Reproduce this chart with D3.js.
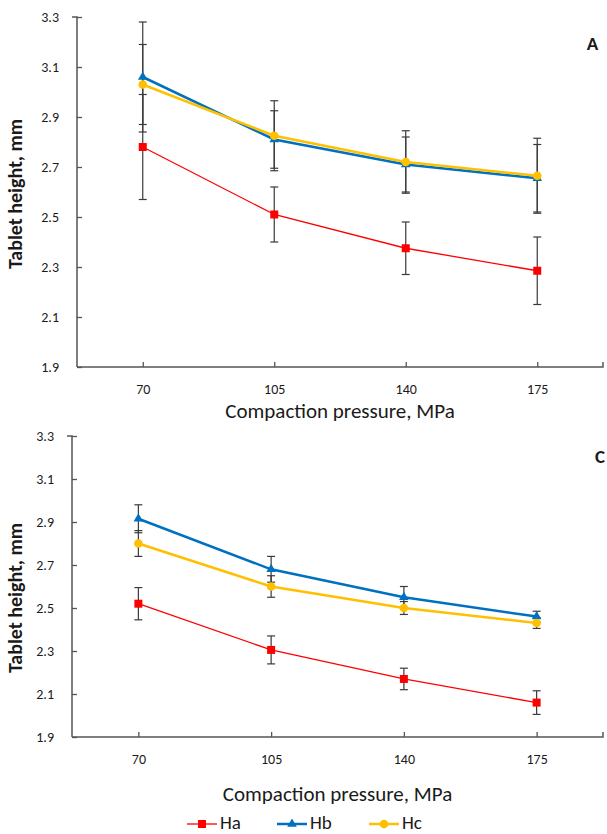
<!DOCTYPE html>
<html><head><meta charset="utf-8">
<script src="https://cdn.jsdelivr.net/npm/d3@7"></script>
<style>body{margin:0;background:#fff}svg{display:block}text{font-family:Carlito,Lato,"Liberation Sans",sans-serif;fill:#1a1a1a}</style>
</head><body>
<svg id="c" width="607" height="834"></svg>
<script>
const categories = ["70","105","140","175"];
const yTicks = [1.9,2.1,2.3,2.5,2.7,2.9,3.1,3.3];
const seriesNames = ["Ha","Hb","Hc"];
// Panel A
const A_Ha = [2.78,2.51,2.375,2.285];
const A_Ha_err = [0.21,0.11,0.105,0.135];
const A_Hb = [3.06,2.81,2.71,2.655];
const A_Hb_err = [0.22,0.115,0.11,0.135];
const A_Hc = [3.03,2.825,2.72,2.665];
const A_Hc_err = [0.16,0.14,0.125,0.15];
// Panel C
const C_Ha = [2.52,2.305,2.17,2.06];
const C_Ha_err = [0.075,0.065,0.05,0.055];
const C_Hb = [2.915,2.68,2.55,2.46];
const C_Hb_err = [0.065,0.06,0.05,0.025];
const C_Hc = [2.80,2.60,2.50,2.43];
const C_Hc_err = [0.06,0.05,0.03,0.025];

const colors = {Ha:"#FF0000", Hb:"#0070C0", Hc:"#FFC000"};
const widths = {Ha:1.3, Hb:2.5, Hc:2.5};
const svg = d3.select("#c");
const axisCol = "#555";

function marker(g, name, x, y){
  if(name==="Ha") g.append("rect").attr("x",x-4).attr("y",y-4).attr("width",8).attr("height",8).attr("fill",colors.Ha);
  else if(name==="Hb") g.append("path").attr("d",d3.symbol(d3.symbolTriangle,40)()).attr("transform",`translate(${x},${y})`).attr("fill",colors.Hb);
  else g.append("circle").attr("cx",x).attr("cy",y).attr("r",4.3).attr("fill",colors.Hc);
}

function panel(cfg){
  const x = d3.scalePoint().domain(categories).range([cfg.x0,cfg.x1]).padding(0.5);
  const y = d3.scaleLinear().domain([1.9,3.3]).range([cfg.yb,cfg.yt]);
  const g = svg.append("g");
  // y axis
  const ya = g.append("g").attr("transform",`translate(${cfg.x0},0)`).call(d3.axisLeft(y).tickValues(yTicks).tickSize(-5).tickPadding(12).tickFormat(d3.format(".1f")));
  ya.select(".domain").attr("stroke",axisCol).attr("stroke-width",1.5).attr("d",`M-5,${cfg.yt}H0V${cfg.yb}`);
  ya.selectAll(".tick line").attr("stroke",axisCol).attr("stroke-width",1.3);
  ya.selectAll(".tick text").attr("font-size",14).attr("fill","#1a1a1a").attr("x",-18);
  // x axis
  const xa = g.append("g").attr("transform",`translate(0,${cfg.yb})`).call(d3.axisBottom(x).tickSize(-5).tickPadding(16));
  xa.select(".domain").attr("stroke",axisCol).attr("stroke-width",1.5).attr("d",`M${cfg.x0},0H${cfg.x1}V-5`);
  xa.selectAll(".tick line").attr("stroke",axisCol).attr("stroke-width",1.3);
  xa.selectAll(".tick text").attr("font-size",14).attr("fill","#1a1a1a").attr("dy","0.71em").attr("y",17);
  // titles
  g.append("text").attr("x",(cfg.x0+cfg.x1)/2).attr("y",cfg.xtY).attr("text-anchor","middle").attr("font-size",21).text("Compaction pressure, MPa");
  g.append("text").attr("transform",`translate(22,${cfg.ytC}) rotate(-90)`).attr("text-anchor","middle").attr("font-size",20).attr("font-weight","bold").text("Tablet height, mm");
  g.append("text").attr("x",cfg.lx).attr("y",cfg.ly).attr("text-anchor","middle").attr("font-size",19).attr("font-weight","bold").text(cfg.label);
  const data = {Ha:[cfg.Ha,cfg.HaE], Hb:[cfg.Hb,cfg.HbE], Hc:[cfg.Hc,cfg.HcE]};
  // error bars
  seriesNames.forEach(n=>{
    const [v,e] = data[n];
    categories.forEach((c,i)=>{
      const cx = x(c);
      g.append("line").attr("x1",cx).attr("x2",cx).attr("y1",y(v[i]-e[i])).attr("y2",y(v[i]+e[i])).attr("stroke","#3a3a3a").attr("stroke-width",1.2);
      [v[i]-e[i], v[i]+e[i]].forEach(t=>g.append("line").attr("x1",cx-4).attr("x2",cx+4).attr("y1",y(t)).attr("y2",y(t)).attr("stroke","#3a3a3a").attr("stroke-width",1.2));
    });
  });
  seriesNames.forEach(n=>{
    const [v] = data[n];
    const line = d3.line().x((d,i)=>x(categories[i])).y(d=>y(d));
    g.append("path").datum(v).attr("d",line).attr("fill","none").attr("stroke",colors[n]).attr("stroke-width",widths[n]);
    v.forEach((d,i)=>marker(g,n,x(categories[i]),y(d)));
  });
}

panel({x0:77,x1:603,yt:17,yb:367,xtY:418,ytC:194,lx:592.5,ly:50,label:"A",
  Ha:A_Ha,HaE:A_Ha_err,Hb:A_Hb,HbE:A_Hb_err,Hc:A_Hc,HcE:A_Hc_err});
panel({x0:72,x1:603,yt:436,yb:737,xtY:801,ytC:598,lx:600,ly:463,label:"C",
  Ha:C_Ha,HaE:C_Ha_err,Hb:C_Hb,HbE:C_Hb_err,Hc:C_Hc,HcE:C_Hc_err});

// legend
const lg = svg.append("g");
const lx = [187,277,369];
seriesNames.forEach((n,i)=>{
  lg.append("line").attr("x1",lx[i]).attr("x2",lx[i]+30).attr("y1",824).attr("y2",824).attr("stroke",colors[n]).attr("stroke-width",widths[n]);
  marker(lg,n,lx[i]+15,824);
  lg.append("text").attr("x",lx[i]+33).attr("y",829).attr("font-size",19).text(n);
});
</script>
</body></html>
